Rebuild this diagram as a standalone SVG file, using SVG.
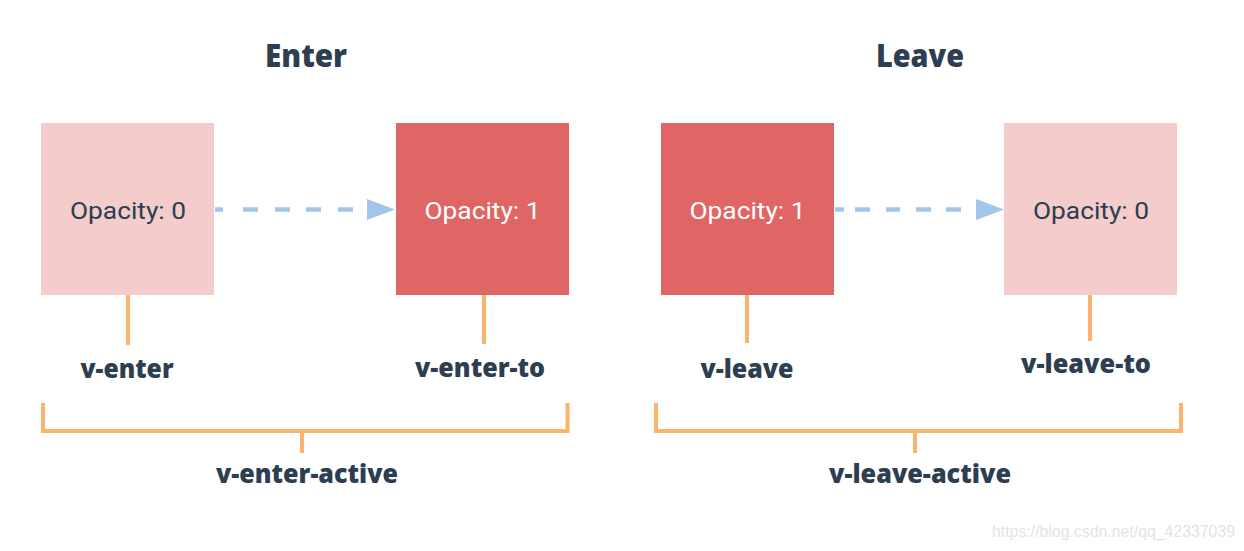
<svg xmlns="http://www.w3.org/2000/svg" width="1244" height="551" viewBox="0 0 1244 551">
  <defs>
    <style>
      .bg { fill: #ffffff; }
      .light { fill: #f4cccc; }
      .dark { fill: #e06666; }
      .op { font-family: Roboto, "Liberation Sans", sans-serif; font-size: 24px; text-anchor: middle; }
      .opd { fill: #2c3e50; }
      .opw { fill: #ffffff; }
      .title { font-family: "Open Sans", "Liberation Sans", sans-serif; font-weight: 800; font-size: 31px; fill: #2c3e50; text-anchor: middle; }
      .lbl { font-family: "Open Sans", "Liberation Sans", sans-serif; font-weight: 800; font-size: 26.5px; fill: #2c3e50; text-anchor: middle; }
      .tick { stroke: #fab46c; stroke-width: 4; fill: none; }
      .dash { stroke: #a2c6ea; stroke-width: 4.5; fill: none; }
      .head { fill: #a2c6ea; }
      .wm { font-family: "Liberation Sans", Arial, sans-serif; font-size: 16px; fill: #e4e4e4; }
    </style>
  </defs>
  <rect class="bg" x="0" y="0" width="1244" height="551"/>

  <g id="titles">
    <text class="title" x="306" y="67" textLength="82" lengthAdjust="spacingAndGlyphs">Enter</text>
    <text class="title" x="920" y="67" textLength="88" lengthAdjust="spacingAndGlyphs">Leave</text>
  </g>

  <g id="enter-from">
    <rect class="light" x="41" y="123" width="173" height="172"/>
    <text class="op opd" x="128" y="218.5" textLength="116" lengthAdjust="spacingAndGlyphs">Opacity: 0</text>
  </g>
  <g id="enter-to">
    <rect class="dark" x="396" y="123" width="173" height="172"/>
    <text class="op opw" x="482.5" y="218.5" textLength="116" lengthAdjust="spacingAndGlyphs">Opacity: 1</text>
  </g>
  <g id="leave-from">
    <rect class="dark" x="661" y="123" width="173" height="172"/>
    <text class="op opw" x="747.5" y="218.5" textLength="116" lengthAdjust="spacingAndGlyphs">Opacity: 1</text>
  </g>
  <g id="leave-to">
    <rect class="light" x="1004" y="123" width="173" height="172"/>
    <text class="op opd" x="1091" y="218.5" textLength="116" lengthAdjust="spacingAndGlyphs">Opacity: 0</text>
  </g>

  <g id="connectors">
    <path class="dash" d="M215,209.5 H223 M243,209.5 H258 M275,209.5 H290 M306,209.5 H321 M338,209.5 H353"/>
    <polygon class="head" points="367,199 395,209.5 367,220"/>
    <path class="dash" d="M835,209.5 H844 M855,209.5 H870 M886,209.5 H900 M916,209.5 H931 M946,209.5 H961"/>
    <polygon class="head" points="976,199 1004,209.5 976,220"/>

    <line class="tick" x1="128" y1="295" x2="128" y2="345"/>
    <line class="tick" x1="484" y1="295" x2="484" y2="344"/>
    <line class="tick" x1="747" y1="295" x2="747" y2="343"/>
    <line class="tick" x1="1090" y1="295" x2="1090" y2="341"/>

    <path class="tick" d="M43,403 V431 H567.5 V403 M302,431 V453"/>
    <path class="tick" d="M656,403 V431 H1181 V403 M915,431 V453"/>
  </g>

  <g id="labels">
    <text class="lbl" x="127" y="378" textLength="93" lengthAdjust="spacingAndGlyphs">v-enter</text>
    <text class="lbl" x="480" y="377" textLength="130" lengthAdjust="spacingAndGlyphs">v-enter-to</text>
    <text class="lbl" x="307" y="483" textLength="182" lengthAdjust="spacingAndGlyphs">v-enter-active</text>
    <text class="lbl" x="747" y="378" textLength="93" lengthAdjust="spacingAndGlyphs">v-leave</text>
    <text class="lbl" x="1086" y="373" textLength="130" lengthAdjust="spacingAndGlyphs">v-leave-to</text>
    <text class="lbl" x="920" y="483" textLength="182" lengthAdjust="spacingAndGlyphs">v-leave-active</text>
  </g>

  <text class="wm" x="992" y="537" textLength="243" lengthAdjust="spacingAndGlyphs">https://blog.csdn.net/qq_42337039</text>
</svg>
